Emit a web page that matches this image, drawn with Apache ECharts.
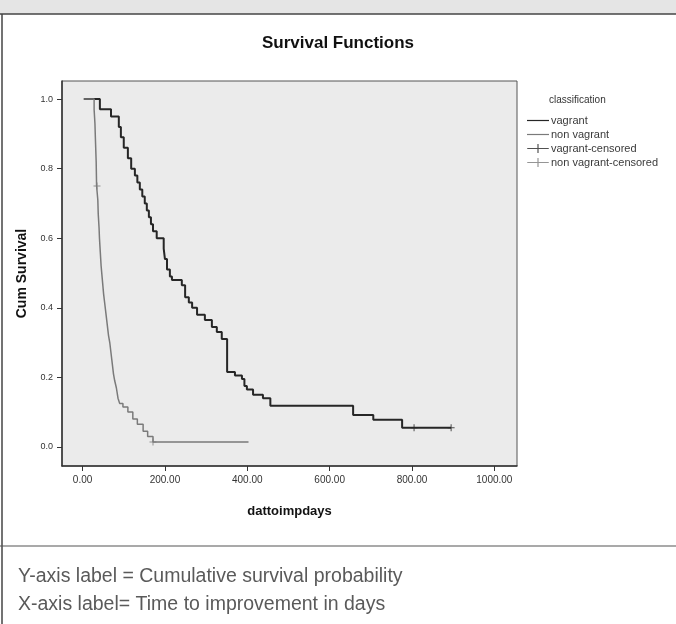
<!DOCTYPE html>
<html>
<head>
<meta charset="utf-8">
<script src="https://cdn.jsdelivr.net/npm/echarts@6/dist/echarts.min.js"></script>
<style>
  html, body { margin: 0; padding: 0; background: #fff; }
  #chart { width: 676px; height: 624px; }
</style>
</head>
<body>
<div id="chart"></div>
<script>
// step times (days) and cumulative survival after each step
var vagrantDays = [3, 42, 69, 88, 93, 100, 110, 118, 127, 133, 139, 145, 151, 156, 161, 166, 171, 180, 197, 200, 205, 212, 217, 241, 249, 258, 266, 278, 297, 314, 326, 338, 351, 370, 387, 393, 399, 414, 438, 456, 657, 706, 776, 895];
var vagrantSurv = [1.0, 0.971, 0.95, 0.92, 0.89, 0.86, 0.83, 0.80, 0.78, 0.76, 0.74, 0.72, 0.70, 0.68, 0.66, 0.64, 0.62, 0.60, 0.57, 0.54, 0.51, 0.49, 0.48, 0.465, 0.43, 0.415, 0.40, 0.38, 0.365, 0.345, 0.33, 0.31, 0.215, 0.205, 0.195, 0.175, 0.165, 0.15, 0.14, 0.118, 0.092, 0.078, 0.055, 0.055];
var vagrantCensorDays = [805, 895];
var vagrantCensorSurv = [0.055, 0.055];

var nonVagrantDays = [3, 28, 30, 31, 33, 34, 37, 38, 40, 41, 43, 45, 48, 51, 54, 57, 60, 63, 66, 69, 72, 75, 78, 82, 86, 90, 98, 110, 122, 133, 147, 158, 171, 403];
var nonVagrantSurv = [1.0, 0.97, 0.93, 0.89, 0.82, 0.75, 0.71, 0.67, 0.63, 0.60, 0.56, 0.52, 0.48, 0.44, 0.41, 0.38, 0.35, 0.32, 0.30, 0.27, 0.24, 0.21, 0.19, 0.17, 0.14, 0.125, 0.115, 0.10, 0.08, 0.065, 0.045, 0.03, 0.014, 0.014];
var nonVagrantCensorDays = [35, 171];
var nonVagrantCensorSurv = [0.75, 0.014];

var xTicks = [0, 200, 400, 600, 800, 1000];
var yTicks = [0, 0.2, 0.4, 0.6, 0.8, 1.0];
var seriesNames = ['vagrant', 'non vagrant', 'vagrant-censored', 'non vagrant-censored'];
var captionLines = ['Y-axis label = Cumulative survival probability', 'X-axis label= Time to improvement in days'];

function pairs(xs, ys) {
  return xs.map(function (x, i) { return [x, ys[i]]; });
}

var darkColor = '#262626';
var lightColor = '#7a7a7a';
var plusPath = 'path://M3,0h1v3h3v1h-3v3h-1v-3h-3v-1h3z';
var lineIcon = 'path://M0,4h22v1.2h-22z';
var censorIcon = 'path://M0,4h10.4v-4h1.2v4h10.4v1.2h-10.4v4h-1.2v-4h-10.4z';

var chart = echarts.init(document.getElementById('chart'));
chart.setOption({
  animation: false,
  backgroundColor: '#fff',
  textStyle: { fontFamily: 'Liberation Sans' },
  title: {
    text: 'Survival Functions',
    left: 'center',
    top: 30,
    textStyle: { fontSize: 17, fontWeight: 'bold', color: '#111' }
  },
  legend: {
    orient: 'vertical',
    left: 522,
    top: 110,
    itemWidth: 22,
    itemHeight: 9,
    itemGap: 3,
    textStyle: { fontSize: 11, color: '#3a3a3a', padding: [0, 0, 0, -3] },
    data: [
      { name: seriesNames[0], icon: lineIcon },
      { name: seriesNames[1], icon: lineIcon },
      { name: seriesNames[2], icon: censorIcon },
      { name: seriesNames[3], icon: censorIcon }
    ]
  },
  grid: {
    left: 62, top: 81, width: 455, height: 385,
    show: true, backgroundColor: '#ebebeb', borderColor: '#555', borderWidth: 1
  },
  xAxis: {
    type: 'value', min: -50, max: 1055,
    name: 'dattoimpdays', nameLocation: 'middle', nameGap: 39,
    nameTextStyle: { fontSize: 13, fontWeight: 'bold', color: '#111' },
    axisLine: { show: true, onZero: false, lineStyle: { color: '#333', width: 1.5 } },
    axisTick: { show: true, customValues: xTicks, length: 5, lineStyle: { color: '#333' } },
    axisLabel: { customValues: xTicks, margin: 9, fontSize: 10, color: '#333',
      formatter: function (v) { return v.toFixed(2); } },
    splitLine: { show: false }
  },
  yAxis: {
    type: 'value', min: -0.055, max: 1.052,
    name: 'Cum Survival', nameLocation: 'middle', nameGap: 32,
    nameTextStyle: { fontSize: 14, fontWeight: 'bold', color: '#111' },
    axisLine: { show: true, onZero: false, lineStyle: { color: '#333', width: 1.5 } },
    axisTick: { show: true, customValues: yTicks, length: 5, lineStyle: { color: '#333' } },
    axisLabel: { customValues: yTicks, margin: 9, fontSize: 9, color: '#333',
      formatter: function (v) { return v.toFixed(1); } },
    splitLine: { show: false }
  },
  graphic: [
    { type: 'rect', shape: { x: 0, y: 0, width: 676, height: 14 }, style: { fill: '#e5e5e5' }, silent: true },
    { type: 'line', shape: { x1: 0, y1: 14, x2: 676, y2: 14 }, style: { stroke: '#444', lineWidth: 1.5 }, silent: true },
    { type: 'line', shape: { x1: 2, y1: 14, x2: 2, y2: 624 }, style: { stroke: '#444', lineWidth: 1.5 }, silent: true },
    { type: 'line', shape: { x1: 0, y1: 546, x2: 676, y2: 546 }, style: { stroke: '#555', lineWidth: 1.2 }, silent: true },
    { type: 'text', left: 549, top: 95, style: { text: 'classification', fontSize: 10, fill: '#333', fontFamily: 'Liberation Sans' } },
    { type: 'text', left: 18, top: 567, style: { text: captionLines[0], fontSize: 19.5, fill: '#5a5a5a', fontFamily: 'Liberation Sans' } },
    { type: 'text', left: 18, top: 595, style: { text: captionLines[1], fontSize: 19.5, fill: '#5a5a5a', fontFamily: 'Liberation Sans' } }
  ],
  series: [
    {
      name: seriesNames[0], type: 'line', step: 'end', showSymbol: false,
      data: pairs(vagrantDays, vagrantSurv),
      itemStyle: { color: darkColor },
      lineStyle: { color: darkColor, width: 2 }
    },
    {
      name: seriesNames[1], type: 'line', step: 'end', showSymbol: false,
      data: pairs(nonVagrantDays, nonVagrantSurv),
      itemStyle: { color: lightColor },
      lineStyle: { color: lightColor, width: 1.5 }
    },
    {
      name: seriesNames[2], type: 'scatter', symbol: plusPath, symbolSize: 7,
      data: pairs(vagrantCensorDays, vagrantCensorSurv),
      itemStyle: { color: darkColor }
    },
    {
      name: seriesNames[3], type: 'scatter', symbol: plusPath, symbolSize: 7,
      data: pairs(nonVagrantCensorDays, nonVagrantCensorSurv),
      itemStyle: { color: lightColor }
    }
  ]
});
</script>
</body>
</html>
